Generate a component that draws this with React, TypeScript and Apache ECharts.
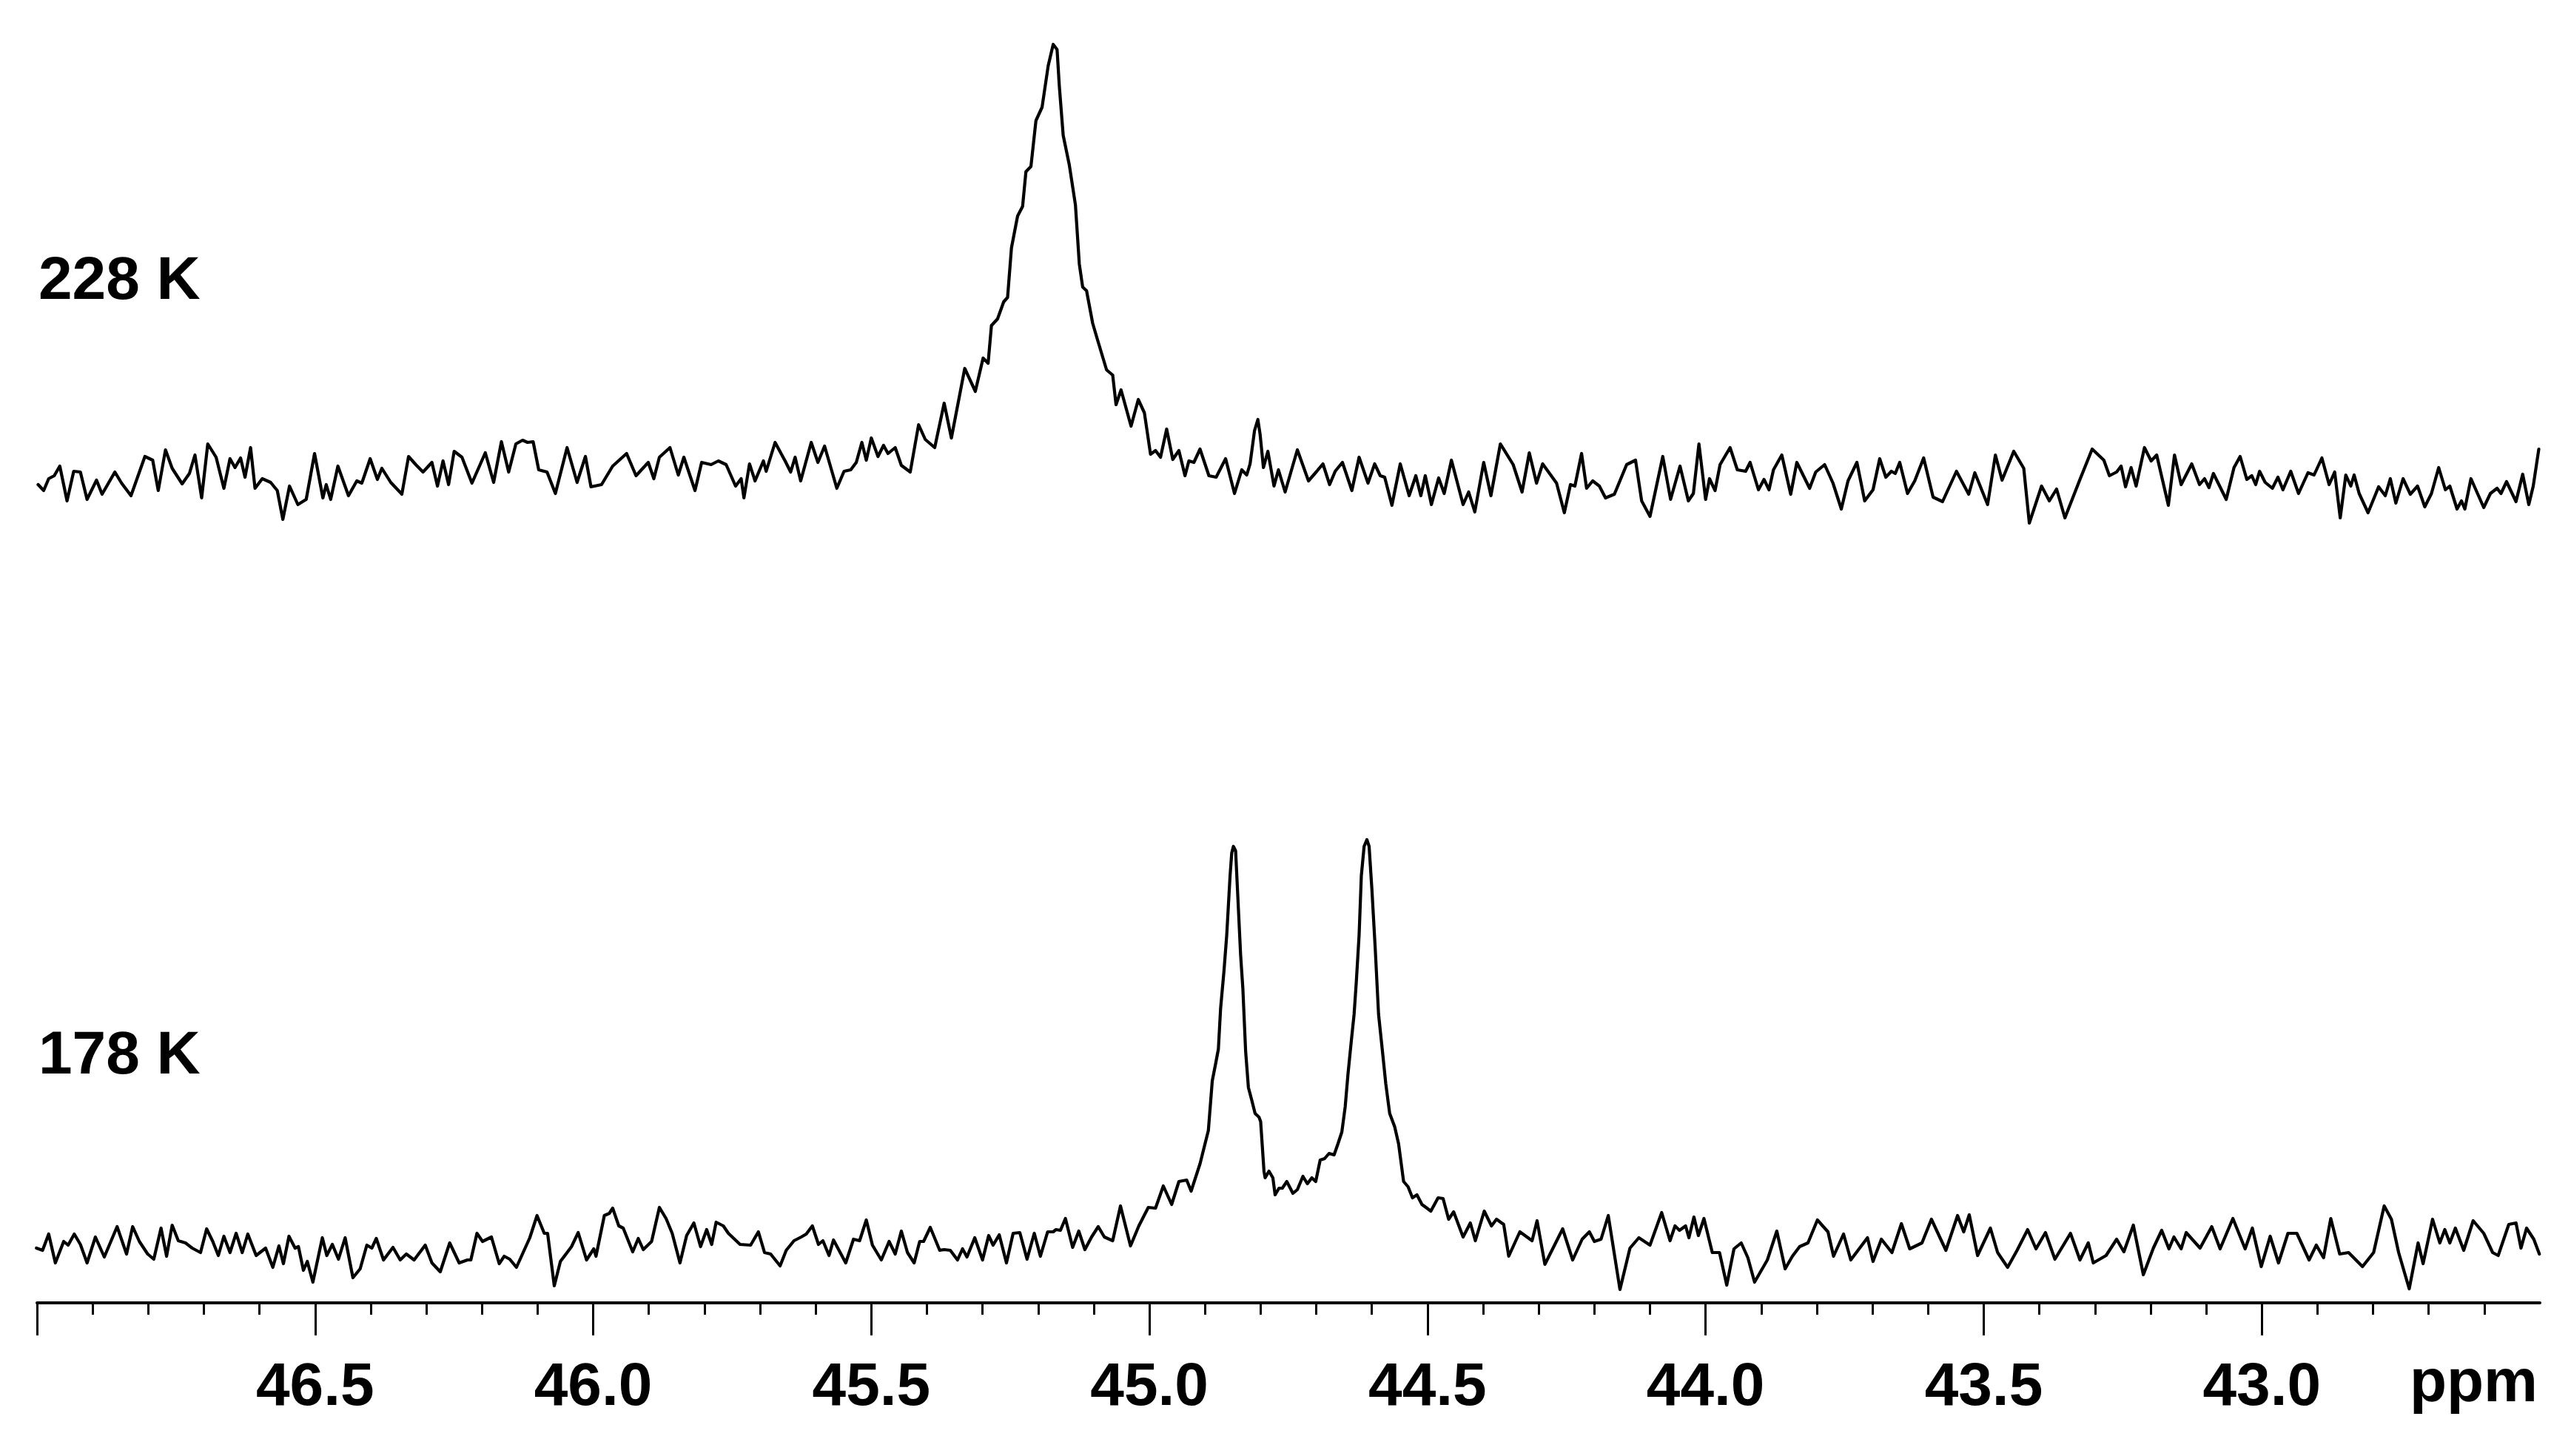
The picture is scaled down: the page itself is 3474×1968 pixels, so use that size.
import React, { useEffect, useRef } from "react";
import * as echarts from "echarts";

// chemical-shift range of the plot (ppm, drawn inverted: high ppm on the left)
const PPM_LEFT = 47.0;
const PPM_RIGHT = 42.5;
const MAJOR_TICKS = [43.0, 43.5, 44.0, 44.5, 45.0, 45.5, 46.0, 46.5, 47.0];
const TICK_LABELS = [43.0, 43.5, 44.0, 44.5, 45.0, 45.5, 46.0, 46.5];
const AXIS_UNIT = "ppm";
const TRACE_LABELS = ["228 K", "178 K"];

// 228 K trace: [ppm, intensity]
const spectrum228K: [number, number][] = [
  [46.998, -12], [46.988, -20], [46.979, -4], [46.969, 0], [46.959, 13], [46.946, -34], [46.934, 6], [46.922, 5],
  [46.91, -32], [46.893, -6], [46.883, -25], [46.86, 5], [46.848, -10], [46.831, -27], [46.806, 26], [46.792, 21],
  [46.782, -20], [46.769, 35], [46.757, 10], [46.739, -11], [46.726, 3], [46.716, 28], [46.704, -30], [46.693, 43],
  [46.678, 25], [46.664, -17], [46.653, 23], [46.644, 11], [46.634, 24], [46.626, -2], [46.616, 38], [46.608, -17],
  [46.595, -4], [46.58, -9], [46.568, -20], [46.558, -59], [46.546, -14], [46.531, -39], [46.516, -32], [46.501, 30],
  [46.486, -30], [46.48, -12], [46.472, -32], [46.459, 13], [46.44, -27], [46.425, -7], [46.416, -10], [46.401, 23],
  [46.388, -5], [46.38, 10], [46.364, -9], [46.344, -25], [46.332, 26], [46.319, 15], [46.306, 5], [46.29, 18],
  [46.28, -14], [46.27, 20], [46.26, -12], [46.25, 33], [46.236, 25], [46.218, -10], [46.194, 31], [46.179, -9],
  [46.165, 46], [46.152, 5], [46.139, 43], [46.127, 48], [46.118, 45], [46.108, 46], [46.098, 8], [46.083, 5],
  [46.068, -24], [46.047, 38], [46.029, -9], [46.014, 26], [46.004, -15], [45.985, -12], [45.965, 13], [45.94, 30],
  [45.923, 0], [45.901, 18], [45.891, -4], [45.881, 25], [45.862, 38], [45.847, 1], [45.837, 25], [45.817, -20],
  [45.805, 18], [45.788, 15], [45.775, 20], [45.761, 15], [45.744, -14], [45.734, -4], [45.729, -30], [45.719, 16],
  [45.709, -7], [45.694, 20], [45.689, 6], [45.673, 45], [45.655, 20], [45.645, 5], [45.637, 25], [45.627, -7],
  [45.608, 45], [45.596, 18], [45.584, 40], [45.562, -17], [45.549, 6], [45.537, 8], [45.527, 18], [45.517, 45],
  [45.509, 21], [45.5, 51], [45.488, 26], [45.478, 41], [45.47, 30],
  [45.457, 38], [45.446, 14], [45.43, 5], [45.415, 69], [45.403, 49], [45.386, 38], [45.369, 98], [45.356, 51],
  [45.332, 145], [45.313, 114], [45.299, 159], [45.29, 152], [45.284, 203], [45.273, 212], [45.262, 235], [45.255, 241],
  [45.248, 308], [45.237, 351], [45.228, 364], [45.222, 411], [45.213, 418], [45.204, 480], [45.193, 498], [45.182, 554],
  [45.173, 583], [45.166, 576], [45.162, 527], [45.155, 460], [45.144, 420], [45.133, 366], [45.126, 286], [45.12, 255],
  [45.113, 250], [45.102, 206], [45.093, 183], [45.077, 143], [45.066, 136], [45.06, 96], [45.051, 116], [45.033, 67],
  [45.02, 103], [45.009, 85], [44.998, 29], [44.989, 34], [44.98, 25], [44.969, 63], [44.958, 22], [44.947, 34],
  [44.936, 0], [44.929, 20], [44.92, 18], [44.909, 36], [44.893, 0], [44.88, -2],
  [44.863, 23], [44.847, -24], [44.834, 8], [44.825, 1], [44.819, 16], [44.811, 61], [44.805, 76], [44.801, 56],
  [44.795, 11], [44.787, 33], [44.776, -14], [44.768, 8], [44.756, -22], [44.734, 35], [44.714, -7], [44.699, 6],
  [44.688, 16], [44.676, -12], [44.666, 6], [44.653, 18], [44.636, -20], [44.623, 25], [44.607, -10], [44.595, 16],
  [44.585, 0], [44.577, -2], [44.564, -40], [44.549, 16], [44.533, -27], [44.521, 0], [44.512, -27], [44.504, 0],
  [44.493, -39], [44.48, -3], [44.47, -24], [44.457, 21], [44.436, -39], [44.426, -22], [44.415, -49], [44.399, 18],
  [44.386, -27], [44.369, 43], [44.346, 15], [44.33, -22], [44.317, 31], [44.304, -10], [44.293, 16], [44.268, -10],
  [44.254, -50], [44.243, -12], [44.235, -14], [44.223, 30], [44.214, -17], [44.203, -7], [44.191, -14], [44.18, -30],
  [44.164, -25], [44.142, 15], [44.126, 21], [44.115, -34], [44.1, -55], [44.077, 26], [44.063, -32], [44.046, 13],
  [44.031, -34], [44.022, -24], [44.012, 43], [44.0, -32], [43.993, -4], [43.983, -20], [43.974, 15], [43.956, 38],
  [43.943, 8], [43.928, 6], [43.92, 18], [43.905, -19], [43.895, -5], [43.886, -19], [43.878, 8], [43.863, 28],
  [43.847, -25], [43.836, 18], [43.813, -17], [43.802, 5], [43.786, 15], [43.771, -10], [43.756, -45], [43.744, -7],
  [43.728, 18], [43.714, -34], [43.699, -19], [43.687, 23], [43.676, -2],
  [43.666, 6], [43.659, 3], [43.651, 18], [43.637, -24], [43.624, -7], [43.608, 24], [43.591, -29], [43.574, -35],
  [43.549, 6], [43.527, -25], [43.516, 4], [43.493, -39], [43.479, 28], [43.467, -6], [43.446, 33], [43.428, 10],
  [43.418, -64], [43.396, -14], [43.382, -34], [43.369, -18], [43.354, -57], [43.328, -7], [43.305, 36], [43.284, 21],
  [43.274, 0], [43.261, 5], [43.253, 13], [43.245, -15], [43.235, 11], [43.226, -14], [43.211, 38], [43.199, 20],
  [43.189, 28], [43.168, -40], [43.157, 28], [43.145, -12], [43.126, 16], [43.112, -12], [43.103, -4], [43.095, -16],
  [43.087, 3], [43.064, -32], [43.05, 11], [43.039, 26], [43.027, -5], [43.018, 0], [43.011, -12], [43.004, 6],
  [42.994, -9], [42.981, -17], [42.971, -2], [42.962, -19], [42.948, 6], [42.934, -24], [42.917, 4], [42.906, 1],
  [42.892, 24], [42.879, -12], [42.869, 5], [42.859, -57], [42.849, 1], [42.84, -14], [42.834, 1], [42.825, -24],
  [42.809, -50], [42.79, -15], [42.778, -27], [42.769, -4], [42.759, -37], [42.746, -4], [42.733, -25], [42.72, -14],
  [42.707, -42], [42.695, -24], [42.682, 11], [42.67, -19], [42.662, -14], [42.649, -45], [42.641, -34], [42.635, -45],
  [42.624, -4], [42.601, -43], [42.589, -24], [42.577, -17], [42.57, -24], [42.56, -8], [42.543, -35], [42.531, 2],
  [42.52, -39], [42.512, -14], [42.502, 36],
];

// 178 K trace: [ppm, intensity]
const spectrum178K: [number, number][] = [
  [47.001, 0], [46.99, -3], [46.979, 19], [46.967, -20], [46.952, 9], [46.944, 4], [46.933, 19], [46.922, 5],
  [46.91, -20], [46.895, 15], [46.879, -12], [46.856, 29], [46.839, -8], [46.828, 29], [46.816, 9], [46.801, -8],
  [46.79, -15], [46.777, 27], [46.767, -11], [46.757, 31], [46.746, 10], [46.733, 7], [46.721, 0], [46.706, -6],
  [46.695, 26], [46.684, 9], [46.674, -10], [46.664, 16], [46.653, -6], [46.642, 20], [46.631, -6], [46.621, 19],
  [46.606, -10], [46.589, 0], [46.576, -26], [46.565, 3], [46.557, -21], [46.547, 16], [46.536, 0], [46.53, 2],
  [46.521, -30], [46.514, -18], [46.504, -46], [46.487, 14], [46.479, -10], [46.469, 5], [46.458, -15], [46.446, 14],
  [46.432, -40], [46.419, -28], [46.407, 4], [46.398, 0], [46.39, 13], [46.377, -16], [46.36, 1], [46.347, -16],
  [46.336, -8], [46.322, -16], [46.302, 4], [46.29, -20], [46.275, -32], [46.258, 7], [46.241, -20], [46.226, -16],
  [46.22, -16], [46.209, 20], [46.199, 9], [46.183, 15], [46.169, -21], [46.16, -11], [46.15, -15], [46.138, -26],
  [46.114, 14], [46.101, 44], [46.088, 20], [46.082, 20], [46.07, -51], [46.059, -18], [46.039, 2], [46.027, 21],
  [46.012, -16], [45.999, -1], [45.995, -11], [45.98, 44], [45.971, 47], [45.965, 54], [45.954, 30], [45.946, 27],
  [45.929, -5], [45.919, 13], [45.91, -2], [45.895, 9], [45.881, 55], [45.869, 40], [45.858, 20], [45.844, -20],
  [45.832, 17], [45.819, 34], [45.807, 2], [45.796, 25], [45.787, 5], [45.779, 35], [45.766, 30], [45.757, 20],
  [45.736, 5], [45.717, 4], [45.703, 22], [45.692, -6], [45.681, -8], [45.664, -24], [45.653, -3], [45.639, 10],
  [45.626, 15], [45.617, 19], [45.606, 30], [45.595, 5], [45.587, 10], [45.576, -10], [45.568, 11], [45.546, -20],
  [45.532, 12], [45.521, 10], [45.509, 38], [45.498, 4], [45.482, -16], [45.468, 9], [45.457, -8], [45.446, 23],
  [45.435, -6], [45.423, -20], [45.413, 9], [45.406, 9], [45.394, 28], [45.377, -3], [45.369, -2], [45.358, -3],
  [45.345, -16], [45.336, -1], [45.328, -12], [45.314, 14], [45.3, -16], [45.289, 17], [45.281, 4], [45.27, 18],
  [45.257, -20], [45.245, 20], [45.233, 21], [45.22, -15], [45.207, 20], [45.196, -11], [45.183, 22], [45.173, 22],
  [45.168, 25], [45.16, 24], [45.151, 40], [45.138, 1], [45.127, 23], [45.116, -2], [45.104, 15], [45.092, 29],
  [45.081, 15], [45.066, 10], [45.052, 57], [45.034, 3], [45.019, 30], [45.002, 55], [44.989, 54], [44.975, 84],
  [44.96, 59], [44.947, 90], [44.933, 92], [44.925, 77], [44.909, 114], [44.898, 147],
  [44.894, 159], [44.887, 226], [44.881, 249], [44.876, 269], [44.872, 324], [44.866, 374], [44.861, 423], [44.855, 503],
  [44.852, 534], [44.849, 543], [44.845, 537], [44.842, 490], [44.836, 396], [44.832, 351], [44.827, 266], [44.822, 217],
  [44.816, 200], [44.81, 182], [44.803, 177], [44.8, 171], [44.794, 104], [44.792, 95], [44.785, 104], [44.778, 95],
  [44.774, 72], [44.767, 81], [44.761, 81], [44.753, 90], [44.742, 74], [44.734, 79], [44.724, 97], [44.716, 87],
  [44.708, 95], [44.701, 90], [44.693, 119], [44.685, 121], [44.677, 128], [44.668, 126], [44.661, 141], [44.654, 157],
  [44.648, 191], [44.643, 235], [44.637, 280], [44.632, 316], [44.628, 360], [44.623, 423], [44.619, 503], [44.614, 543],
  [44.609, 552], [44.605, 543], [44.6, 485], [44.594, 405], [44.588, 316], [44.581, 266], [44.575, 222], [44.568, 182],
  [44.559, 164], [44.552, 141], [44.543, 90], [44.535, 83], [44.527, 68], [44.519, 72], [44.51, 59], [44.501, 54],
  [44.494, 50], [44.481, 68],
  [44.472, 67], [44.462, 39], [44.453, 49], [44.436, 15], [44.423, 34], [44.414, 10], [44.398, 50], [44.385, 30],
  [44.376, 39], [44.363, 32], [44.354, -11], [44.334, 22], [44.312, 10], [44.303, 37], [44.289, -22], [44.257, 26],
  [44.239, -16], [44.222, 12], [44.209, 22], [44.2, 9], [44.188, 12], [44.175, 44], [44.154, -56], [44.136, 0],
  [44.12, 14], [44.1, 4], [44.079, 48], [44.064, 10], [44.055, 30], [44.047, 24], [44.036, 30], [44.03, 14],
  [44.021, 42], [44.013, 17], [44.003, 40], [43.988, -6], [43.975, -6], [43.962, -50], [43.949, -1], [43.936, 7],
  [43.924, -13], [43.912, -46], [43.889, -16], [43.872, 23], [43.857, -28], [43.844, -11], [43.831, 2], [43.816, 7],
  [43.799, 38], [43.78, 22], [43.77, -11], [43.752, 19], [43.739, -16], [43.709, 14], [43.699, -18], [43.684, 12],
  [43.665, -6], [43.648, 33], [43.633, -1], [43.611, 7], [43.594, 39], [43.568, -3], [43.547, 44], [43.536, 22],
  [43.526, 45], [43.511, -10], [43.488, 27], [43.475, -6], [43.457, -26], [43.44, -3], [43.421, 25], [43.406, -1],
  [43.389, 21], [43.372, -15], [43.344, 20], [43.327, -16], [43.312, 7], [43.303, -20], [43.28, -10], [43.261, 12],
  [43.248, -5], [43.231, 31], [43.213, -36], [43.195, 0], [43.18, 24], [43.167, -1], [43.158, 15], [43.145, -1],
  [43.136, 21], [43.111, 0], [43.09, 29], [43.075, -1], [43.052, 40], [43.03, -1], [43.017, 27], [43.001, -25],
  [42.985, 16], [42.97, -20], [42.953, 20], [42.937, 20], [42.915, -16], [42.902, 4], [42.889, -13], [42.876, 40],
  [42.86, -8], [42.844, -6], [42.819, -25], [42.799, -6], [42.78, 57], [42.767, 39], [42.754, -6], [42.735, -55],
  [42.719, 7], [42.71, -21], [42.693, 39], [42.68, 7], [42.671, 25], [42.662, 7], [42.652, 27], [42.637, -3],
  [42.62, 37], [42.601, 20], [42.585, -6], [42.575, -10], [42.556, 32], [42.543, 34], [42.534, 0], [42.524, 27],
  [42.511, 12], [42.501, -8],
];

const FONT = "'Liberation Sans', Arial, Helvetica, sans-serif";

export default function App() {
  const ref = useRef<HTMLDivElement>(null);

  useEffect(() => {
    if (!ref.current) return;
    const chart = echarts.init(ref.current, null, { renderer: "svg" });
    const xCommon = {
      type: "value" as const,
      min: PPM_RIGHT,
      max: PPM_LEFT,
      inverse: true,
      interval: 0.5,
      splitLine: { show: false },
    };
    chart.setOption({
      animation: false,
      backgroundColor: "#ffffff",
      grid: [
        { left: 50, right: 42, top: 0, height: 900, outerBoundsMode: "none", containLabel: false },
        { left: 50, right: 42, top: 900, height: 861, outerBoundsMode: "none", containLabel: false },
      ],
      xAxis: [
        { ...xCommon, gridIndex: 0, show: false },
        {
          ...xCommon,
          gridIndex: 1,
          position: "bottom",
          axisLine: { show: true, onZero: false, lineStyle: { color: "#000", width: 4 } },
          axisTick: {
            show: true,
            inside: false,
            length: 44,
            customValues: MAJOR_TICKS,
            lineStyle: { color: "#000", width: 3 },
          },
          minorTick: {
            show: true,
            splitNumber: 5,
            length: 16,
            lineStyle: { color: "#000", width: 3 },
          },
          minorSplitLine: { show: false },
          axisLabel: {
            show: true,
            customValues: TICK_LABELS,
            formatter: (v: number) => v.toFixed(1),
            margin: 109,
            verticalAlign: "middle",
            color: "#000",
            fontSize: 82,
            fontWeight: "bold",
            fontFamily: FONT,
          },
        },
      ],
      yAxis: [
        { type: "value", gridIndex: 0, min: -257, max: 643, show: false, splitLine: { show: false } },
        { type: "value", gridIndex: 1, min: -74, max: 787, show: false, splitLine: { show: false } },
      ],
      series: [
        {
          name: TRACE_LABELS[0],
          type: "line",
          xAxisIndex: 0,
          yAxisIndex: 0,
          data: spectrum228K,
          showSymbol: false,
          lineStyle: { color: "#000", width: 4.2, join: "round", cap: "round" },
          z: 3,
        },
        {
          name: TRACE_LABELS[1],
          type: "line",
          xAxisIndex: 1,
          yAxisIndex: 1,
          data: spectrum178K,
          showSymbol: false,
          lineStyle: { color: "#000", width: 4.2, join: "round", cap: "round" },
          z: 3,
        },
      ],
      graphic: [
        {
          type: "text",
          left: 52,
          top: 350 - 16,
          style: { text: TRACE_LABELS[0], fontSize: 82, fontWeight: "bold", fontFamily: FONT, fill: "#000" },
        },
        {
          type: "text",
          left: 52,
          top: 1397 - 16,
          style: { text: TRACE_LABELS[1], fontSize: 82, fontWeight: "bold", fontFamily: FONT, fill: "#000" },
        },
        {
          type: "text",
          right: 3474 - 3429,
          top: 1840 - 16,
          style: { text: AXIS_UNIT, fontSize: 82, fontWeight: "bold", fontFamily: FONT, fill: "#000" },
        },
      ],
    });
    return () => chart.dispose();
  }, []);

  return (
    <div
      ref={ref}
      style={{ position: "absolute", left: 0, top: 0, width: 3474, height: 1968, background: "#fff" }}
    />
  );
}
